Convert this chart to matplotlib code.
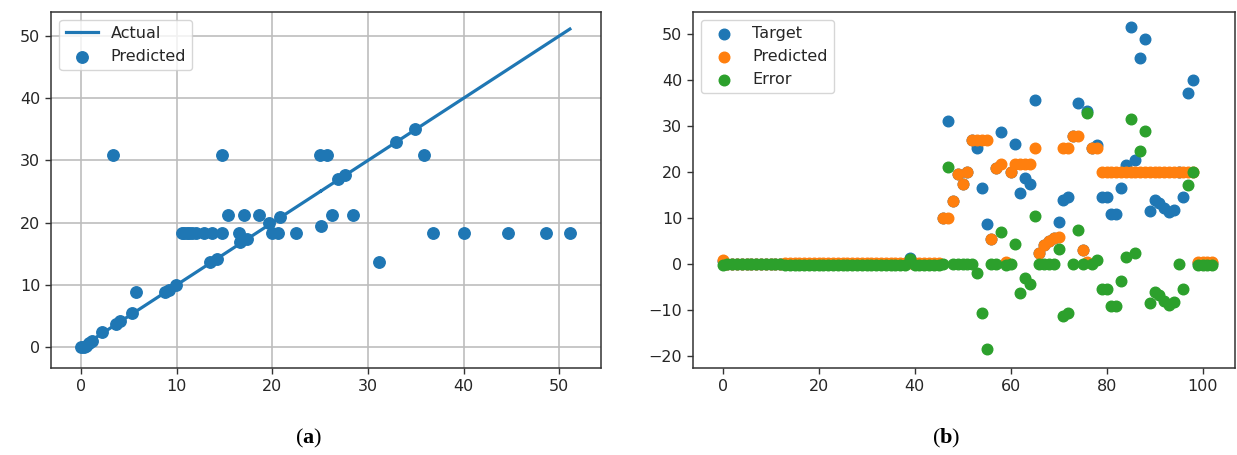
import numpy as np
import matplotlib
matplotlib.use("Agg")
import matplotlib.pyplot as plt

plt.rcParams['font.family'] = ['DejaVu Sans']
plt.rcParams['mathtext.fontset'] = 'custom'
plt.rcParams['mathtext.rm'] = 'Liberation Serif'
plt.rcParams['mathtext.bf'] = 'Liberation Serif:bold'

# ---- (a) actual vs predicted ----
actual_a = [0.0, 0.3, 0.5, 0.8, 1.1, 2.2, 3.3, 3.7, 4.1, 5.3, 5.7, 8.8, 9.2, 9.9,
            10.6, 10.8, 11.1, 11.3, 11.6, 12.0, 12.8, 13.5, 13.7, 14.2, 14.7, 14.7,
            15.4, 16.5, 16.6, 17.0, 17.3, 18.6, 19.6, 20.0, 20.6, 20.8, 22.5,
            25.1, 25.0, 25.7, 26.2, 26.9, 27.6, 28.4, 31.1, 32.9, 34.9, 35.8,
            36.8, 40.0, 44.6, 48.6, 51.1]
predicted_a = [0.0, 0.0, 0.2, 0.6, 1.0, 2.4, 30.9, 3.7, 4.2, 5.5, 8.9, 8.9, 9.1, 10.0,
               18.4, 18.4, 18.4, 18.4, 18.4, 18.4, 18.4, 13.6, 18.4, 14.2, 18.4, 30.9,
               21.3, 18.4, 16.9, 21.3, 17.4, 21.3, 19.9, 18.4, 18.4, 20.9, 18.4,
               19.5, 30.9, 30.9, 21.3, 27.0, 27.6, 21.3, 13.7, 32.9, 35.0, 30.9,
               18.4, 18.4, 18.4, 18.4, 18.4]

# ---- (b) per-sample target, prediction and error ----
target_b = [
    0.7, 0, 0, 0, 0, 0, 0, 0, 0, 0,
    0, 0, 0, 0, 0, 0, 0, 0, 0, 0,
    0, 0, 0, 0, 0, 0, 0, 0, 0, 0,
    0, 0, 0, 0, 0, 0, 0, 0, 0, 1.3,
    0, 0, 0, 0, 0, 0, 10.0, 31.1, 13.7, 19.6,
    17.3, 19.9, 27.0, 25.1, 16.4, 8.6, 5.4, 20.8, 28.6, 0.3,
    19.9, 26.1, 15.5, 18.6, 17.4, 35.6, 2.3, 4.1, 4.9, 5.6,
    9.1, 13.9, 14.6, 27.7, 35.0, 3.0, 33.3, 25.1, 25.9, 14.6,
    14.6, 10.9, 10.9, 16.4, 21.5, 51.4, 22.5, 44.6, 48.8, 11.6,
    13.9, 13.2, 12.1, 11.2, 11.7, 20.0, 14.6, 37.1, 40.0, 0.3,
    0.3, 0.3, 0.3]
predicted_b = [
    0.9, 0, 0, 0, 0, 0, 0, 0, 0, 0,
    0, 0, 0, 0.25, 0.25, 0.25, 0.25, 0.25, 0.25, 0.25,
    0.25, 0.25, 0.25, 0.25, 0.25, 0.25, 0.25, 0.25, 0.25, 0.25,
    0.25, 0.25, 0.25, 0.25, 0.25, 0.25, 0.25, 0.25, 0.25, 0.25,
    0.25, 0.25, 0.25, 0.25, 0.25, 0.25, 10.0, 10.0, 13.7, 19.6,
    17.3, 19.9, 27.0, 27.0, 27.0, 27.0, 5.4, 20.8, 21.7, 0.5,
    19.9, 21.7, 21.7, 21.7, 21.7, 25.1, 2.3, 4.1, 4.9, 5.6,
    5.8, 25.1, 25.1, 27.7, 27.7, 3.0, 0.5, 25.1, 25.1, 20.0,
    20.0, 20.0, 20.0, 20.0, 20.0, 20.0, 20.0, 20.0, 20.0, 20.0,
    20.0, 20.0, 20.0, 20.0, 20.0, 20.0, 20.0, 20.0, 20.0, 0.5,
    0.5, 0.5, 0.5]
error_b = [
    -0.2, 0, 0, 0, 0, 0, 0, 0, 0, 0,
    0, 0, 0, -0.25, -0.25, -0.25, -0.25, -0.25, -0.25, -0.25,
    -0.25, -0.25, -0.25, -0.25, -0.25, -0.25, -0.25, -0.25, -0.25, -0.25,
    -0.25, -0.25, -0.25, -0.25, -0.25, -0.25, -0.25, -0.25, -0.25, 1.05,
    -0.25, -0.25, -0.25, -0.25, -0.25, -0.25, 0, 21.1, 0, 0,
    0, 0, 0, -1.9, -10.6, -18.4, 0, 0, 6.9, -0.2,
    0, 4.4, -6.2, -3.1, -4.3, 10.5, 0, 0, 0, 0,
    3.3, -11.2, -10.5, 0, 7.3, 0, 32.8, 0, 0.8, -5.4,
    -5.4, -9.1, -9.1, -3.6, 1.5, 31.4, 2.5, 24.6, 28.8, -8.4,
    -6.1, -6.8, -7.9, -8.8, -8.3, 0, -5.4, 17.1, 20.0, -0.2,
    -0.2, -0.2, -0.2]

xticks_a = [0, 10, 20, 30, 40, 50]
yticks_a = [0, 10, 20, 30, 40, 50]
xticks_b = [0, 20, 40, 60, 80, 100]
yticks_b = [-20, -10, 0, 10, 20, 30, 40, 50]

TEXT = '#262626'
W, H = 1237, 455
fig = plt.figure(figsize=(W / 100, H / 100), dpi=100)

def frac(x0, x1, y_top, y_bot):
    return [x0 / W, (H - y_bot) / H, (x1 - x0) / W, (y_bot - y_top) / H]

ax1 = fig.add_axes(frac(51.4, 600.5, 11.6, 368.3))
ax2 = fig.add_axes(frac(693.3, 1235.3, 11.6, 368.3))

for ax in (ax1, ax2):
    ax.tick_params(labelsize=11.5, length=4, width=1.0, colors='#333333',
                   labelcolor=TEXT, pad=4)
    for sp in ax.spines.values():
        sp.set_linewidth(1.1)
        sp.set_color('#333333')

# (a)
ax1.set_axisbelow(True)
ax1.grid(True, color='#bdbdbd', linewidth=1.2)
ax1.plot(actual_a, actual_a, color='#1f77b4', linewidth=2.3, label='Actual')
ax1.scatter(actual_a, predicted_a, s=68, color='#1f77b4', label='Predicted')
ax1.set_xlim(-3.1, 54.3)
ax1.set_ylim(-3.4, 53.9)
ax1.set_xticks(xticks_a)
ax1.set_yticks(yticks_a)
ax1.legend(loc='upper left', fontsize=11.5, labelcolor=TEXT)

# (b)
idx = np.arange(len(target_b))
ax2.scatter(idx, target_b, s=58, color='#1f77b4', label='Target')
ax2.scatter(idx, predicted_b, s=58, color='#ff7f0e', label='Predicted')
ax2.scatter(idx, error_b, s=58, color='#2ca02c', label='Error')
ax2.set_xlim(-6.1, 106.8)
ax2.set_ylim(-22.6, 54.75)
ax2.set_xticks(xticks_b)
ax2.set_yticks(yticks_b)
ax2.legend(loc='upper left', fontsize=11.5, labelcolor=TEXT)

fig.text(309 / W, 1 - 438 / H, r'$\mathrm{(}\mathbf{a}\mathrm{)}$', ha='center',
         va='center', fontsize=16, color='black')
fig.text(946 / W, 1 - 438 / H, r'$\mathrm{(}\mathbf{b}\mathrm{)}$', ha='center',
         va='center', fontsize=16, color='black')

fig.savefig('out.png', dpi=100)
